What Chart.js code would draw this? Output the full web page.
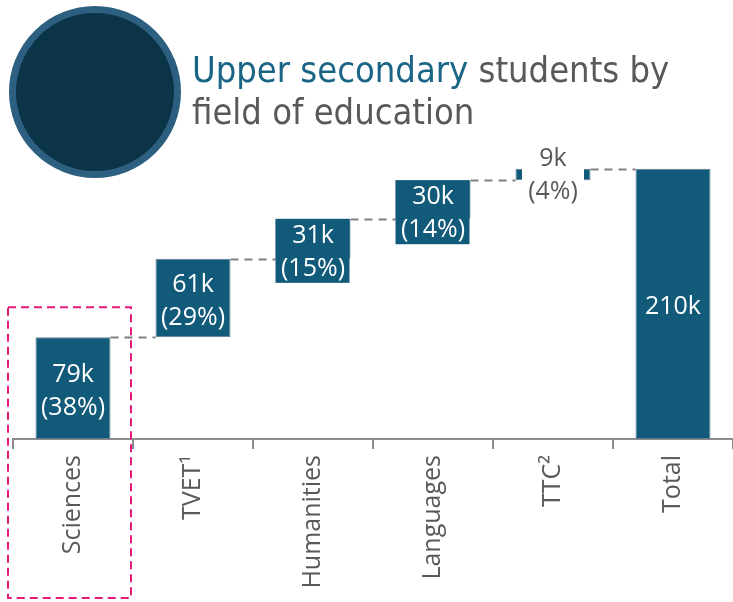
<!DOCTYPE html>
<html>
<head>
<meta charset="utf-8">
<title>Upper secondary students by field of education</title>
<script src="https://cdn.jsdelivr.net/npm/chart.js@4.4.1/dist/chart.umd.min.js"></script>
<style>
  body { margin: 0; background: #fff; }
  #wrap { position: relative; width: 733px; height: 602px; overflow: hidden; }
  #chart { position: absolute; left: 0; top: 0; }
  #badge {
    position: absolute; left: 9px; top: 6px;
    width: 158px; height: 158px; border-radius: 50%;
    background: #0b3446; border: 7px solid #2d5f80;
  }
  #title {
    position: absolute; left: 192px; top: 49px;
    font-family: 'DejaVu Sans Condensed', 'DejaVu Sans', sans-serif;
    font-size: 36px; line-height: 42px; color: #595959; white-space: nowrap;
  }
  #title span { color: #1a6585; }
</style>
</head>
<body>
<div id="wrap">
  <canvas id="chart" width="733" height="602"></canvas>
  <div id="badge"></div>
  <div id="title"><span>Upper secondary</span> students by<br>field of education</div>
</div>
<script>
// values in thousands of students
const categories = ['Sciences', 'TVET\u00B9', 'Humanities', 'Languages', 'TTC\u00B2', 'Total'];
const students = [79, 61, 31, 30, 9, 210];
const shares = [38, 29, 15, 14, 4, null];
const isTotal = [false, false, false, false, false, true];

// floating [start, end] ranges for the waterfall
let running = 0;
const ranges = students.map((v, i) => {
  if (isTotal[i]) return [0, v];
  const r = [running, running + v];
  running += v;
  return r;
});

const barColor = '#115a7a';
const grey = '#595959';

const waterfallExtras = {
  id: 'waterfallExtras',
  afterDatasetsDraw(chart) {
    const ctx = chart.ctx;
    const bars = chart.getDatasetMeta(0).data;
    const y = chart.scales.y;
    const x = chart.scales.x;

    ctx.save();
    // dashed connectors between steps
    ctx.strokeStyle = '#808080';
    ctx.lineWidth = 2;
    ctx.setLineDash([8, 6]);
    for (let i = 0; i < bars.length - 1; i++) {
      const level = Math.round(y.getPixelForValue(ranges[i][1])) + 0.5;
      ctx.beginPath();
      ctx.moveTo(bars[i].x + bars[i].width / 2, level);
      ctx.lineTo(bars[i + 1].x - bars[i + 1].width / 2, level);
      ctx.stroke();
    }

    // value labels
    ctx.setLineDash([]);
    ctx.font = '25px "Open Sans"';
    ctx.textAlign = 'center';
    ctx.textBaseline = 'middle';
    const lh = 33;
    const boxH = 64;
    bars.forEach((bar, i) => {
      const lines = [students[i] + 'k'];
      if (shares[i] !== null) lines.push('(' + shares[i] + '%)');
      const h = Math.abs(bar.base - bar.y);
      if (h < 30) {
        // tiny step: grey text on a white box over the bar
        const top = bar.y - 10;
        ctx.fillStyle = '#fff';
        ctx.fillRect(bar.x - 31, top - 16, 62, lh * (lines.length - 1) + 34);
        ctx.fillStyle = grey;
        lines.forEach((t, k) => ctx.fillText(t, bar.x, top + k * lh));
      } else if (h < boxH) {
        // label taller than the bar: box in bar colour hung from the top
        ctx.fillStyle = barColor;
        ctx.fillRect(bar.x - bar.width / 2, bar.y, bar.width - 1, boxH);
        ctx.fillStyle = '#fff';
        lines.forEach((t, k) => ctx.fillText(t, bar.x, bar.y + 17 + k * lh));
      } else {
        const mid = (bar.y + bar.base) / 2 + 3;
        ctx.fillStyle = '#fff';
        lines.forEach((t, k) => ctx.fillText(t, bar.x, mid + (k - (lines.length - 1) / 2) * lh));
      }
    });

    // pink highlight round the first category
    const c0 = x.getPixelForValue(0);
    ctx.strokeStyle = '#e5197a';
    ctx.lineWidth = 2;
    ctx.setLineDash([8, 5]);
    ctx.strokeRect(c0 - 65, bars[0].y - 30, 123, 598 - (bars[0].y - 30));
    ctx.restore();
  }
};

new Chart(document.getElementById('chart').getContext('2d'), {
  type: 'bar',
  data: {
    labels: categories,
    datasets: [{
      data: ranges,
      backgroundColor: barColor,
      borderColor: '#5f7d8c',
      borderWidth: 1,
      borderSkipped: false,
      barPercentage: 0.625,
      categoryPercentage: 1
    }]
  },
  options: {
    responsive: false,
    animation: false,
    layout: { padding: { left: 13, right: 0, top: 130, bottom: 0 } },
    plugins: { legend: { display: false }, tooltip: { enabled: false } },
    scales: {
      y: { display: false, min: 0, max: 240 },
      x: {
        afterFit: (s) => { s.height = 163; },
        border: { display: true, color: '#8c8c8c', width: 2 },
        grid: { offset: true, drawOnChartArea: false, drawTicks: true, tickLength: 10, color: '#8c8c8c', lineWidth: 2 },
        ticks: {
          minRotation: 90, maxRotation: 90, padding: 6,
          color: grey, font: { family: 'Open Sans', size: 25 }
        }
      }
    }
  },
  plugins: [waterfallExtras]
});
</script>
</body>
</html>
